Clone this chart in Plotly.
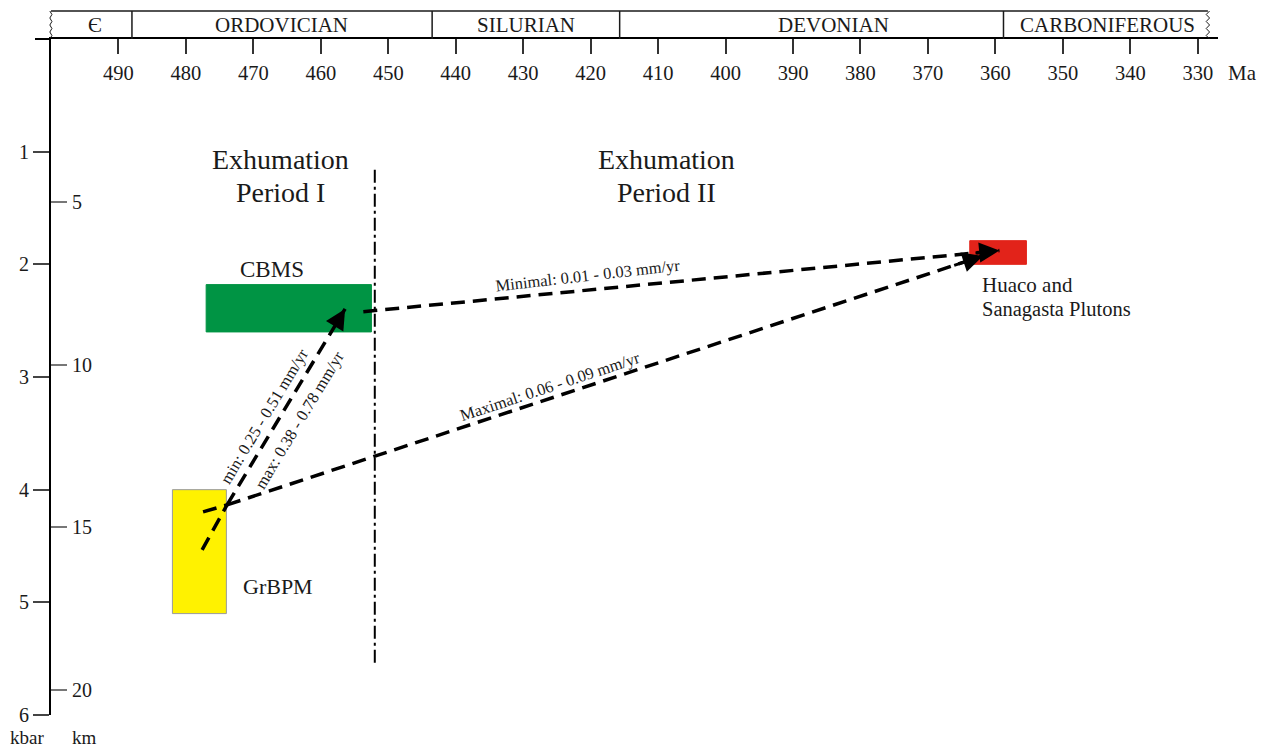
import plotly.graph_objects as go

# ---------------- data ----------------
# geological periods (header)
period_names = ["Є", "ORDOVICIAN", "SILURIAN", "DEVONIAN", "CARBONIFEROUS"]
period_label_pos = [493.5, 465.8, 429.6, 384.0, 343.4]
period_bounds = [488.0, 443.5, 415.7, 358.8]
header_right_age = 328.5

# x ticks (Ma)
age_ticks = [490, 480, 470, 460, 450, 440, 430, 420, 410, 400, 390, 380, 370, 360, 350, 340, 330]
# y ticks
kbar_ticks = [1, 2, 3, 4, 5, 6]
km_ticks = [5, 10, 15, 20]
km_per_kbar = 3.46

# units (boxes): age range (Ma) and pressure range (kbar)
unit_names = ["GrBPM", "CBMS", "Huaco and Sanagasta Plutons"]
unit_age_old = [482.0, 477.0, 363.8]
unit_age_young = [474.0, 452.5, 355.4]
unit_p_top = [4.0, 2.18, 1.79]
unit_p_bottom = [5.1, 2.60, 2.0]
unit_colors = ["#FFF200", "#009444", "#E2231A"]
unit_edge = ["#9A9A9A", "#009444", "#E2231A"]

# boundary between exhumation periods
period_split_age = 452.0
period_split_p = [1.16, 5.55]

# exhumation paths (age Ma, pressure kbar)
steep_inner_age = [477.6, 473.9]
steep_inner_p = [4.534, 4.135]
steep_age = [473.9, 456.4]
steep_p = [4.135, 2.396]

maxi_inner_age = [477.46, 473.9]
maxi_inner_p = [4.197, 4.135]
maxi_age = [473.9, 361.85]
maxi_p = [4.135, 1.925]

mini_age = [453.7, 359.4]
mini_p = [2.42, 1.878]

# rate labels: text, age, pressure, angle
rate_text = ["Minimal: 0.01 - 0.03 mm/yr", "Maximal: 0.06 - 0.09 mm/yr",
             "min: 0.25 - 0.51 mm/yr", "max: 0.38 - 0.78 mm/yr"]
rate_age = [420.4, 426.0, 468.3, 463.1]
rate_p = [2.103, 3.088, 3.345, 3.38]
rate_angle = [-6.5, -18.3, -59.0, -59.0]

FONT = "Liberation Serif"
INK = "#1a1a1a"

fig = go.Figure()

# boxes
shapes = []
for i in range(len(unit_names)):
    shapes.append(dict(type="rect", xref="x", yref="y",
                       x0=unit_age_old[i], x1=unit_age_young[i],
                       y0=unit_p_top[i], y1=unit_p_bottom[i],
                       fillcolor=unit_colors[i],
                       line=dict(color=unit_edge[i], width=1), layer="below"))

# dash-dot split line
fig.add_trace(go.Scatter(x=[period_split_age, period_split_age], y=period_split_p,
                         mode="lines", line=dict(color="black", width=2, dash="13px,4px,3px,4px"),
                         hoverinfo="skip", showlegend=False))

dash = "14px,8px"
for xs, ys in [(steep_inner_age, steep_inner_p), (steep_age, steep_p),
               (maxi_inner_age, maxi_inner_p), (maxi_age, maxi_p),
               (mini_age, mini_p)]:
    fig.add_trace(go.Scatter(x=xs, y=ys, mode="lines",
                             line=dict(color="black", width=3.5, dash=dash),
                             hoverinfo="skip", showlegend=False))

# invisible trace for km axis
fig.add_trace(go.Scatter(x=[490], y=[10], yaxis="y2", mode="markers",
                         marker=dict(opacity=0), hoverinfo="skip", showlegend=False))

annotations = []
# arrowheads
for xs, ys in [(steep_age, steep_p), (maxi_age, maxi_p), (mini_age, mini_p)]:
    f = 0.04
    bx = xs[1] + (xs[0] - xs[1]) * f
    by = ys[1] + (ys[0] - ys[1]) * f
    annotations.append(dict(x=xs[1], y=ys[1], ax=bx, ay=by, xref="x", yref="y",
                            axref="x", ayref="y", text="", showarrow=True,
                            arrowhead=2, arrowsize=1.35, arrowwidth=3, arrowcolor="black",
                            standoff=0, startstandoff=0))

# rate labels
for t, a, p, ang in zip(rate_text, rate_age, rate_p, rate_angle):
    annotations.append(dict(x=a, y=p, xref="x", yref="y", text=t, showarrow=False,
                            textangle=ang, font=dict(family=FONT, size=16.5, color=INK)))

# titles
title_lines = [("Exhumation", 466.0, 1.07), ("Period I", 466.0, 1.36),
               ("Exhumation", 408.7, 1.07), ("Period II", 408.7, 1.36)]
for t, a, p in title_lines:
    annotations.append(dict(x=a, y=p, xref="x", yref="y", text=t, showarrow=False,
                            font=dict(family=FONT, size=28, color=INK)))

annotations.append(dict(x=467.2, y=2.05, xref="x", yref="y", text="CBMS", showarrow=False,
                        font=dict(family=FONT, size=23, color=INK)))
annotations.append(dict(x=466.3, y=4.86, xref="x", yref="y", text="GrBPM", showarrow=False,
                        font=dict(family=FONT, size=22, color=INK)))
annotations.append(dict(x=362.3, y=2.18, xref="x", yref="y", text="Huaco and", showarrow=False,
                        xanchor="left", font=dict(family=FONT, size=21, color=INK)))
annotations.append(dict(x=362.3, y=2.40, xref="x", yref="y", text="Sanagasta Plutons", showarrow=False,
                        xanchor="left", font=dict(family=FONT, size=20.5, color=INK)))

# header
H_TOP = 1.0414
H_MID = 1.0207
shapes.append(dict(type="line", xref="x", yref="paper", x0=500, x1=header_right_age,
                   y0=H_TOP, y1=H_TOP, line=dict(color=INK, width=1.5)))
for b in period_bounds:
    shapes.append(dict(type="line", xref="x", yref="paper", x0=b, x1=b,
                       y0=1.0, y1=H_TOP, line=dict(color=INK, width=1.5)))
# wavy right edge
n = 8
pts = []
for k in range(n + 1):
    yy = 1.0 + (H_TOP - 1.0) * k / n
    xx = header_right_age + (0.25 if k % 2 else -0.25)
    pts.append(f"{xx},{yy}")
shapes.append(dict(type="path", xref="x", yref="paper", path="M " + " L ".join(pts),
                   line=dict(color=INK, width=1)))
# wavy left edge (paper coords)
pts = []
for k in range(n + 1):
    yy = 1.0 + (H_TOP - 1.0) * k / n
    xx = -0.0010 + (0.0018 if k % 2 else 0.0)
    pts.append(f"{xx},{yy}")
shapes.append(dict(type="path", xref="paper", yref="paper", path="M " + " L ".join(pts),
                   line=dict(color=INK, width=1)))
# extension of baseline to the left
shapes.append(dict(type="line", xref="paper", yref="paper", x0=-0.0137, x1=0, y0=1, y1=1,
                   line=dict(color="black", width=2)))

for name, pos in zip(period_names, period_label_pos):
    annotations.append(dict(x=pos, y=H_MID, xref="x", yref="paper", text=name, showarrow=False,
                            xanchor="center", yanchor="middle",
                            font=dict(family=FONT, size=21, color=INK)))

annotations.append(dict(x=1.0214, y=0.9497, xref="paper", yref="paper", text="Ma", showarrow=False,
                        xanchor="center", yanchor="middle",
                        font=dict(family=FONT, size=21, color=INK)))
annotations.append(dict(x=-0.0206, y=-0.034, xref="paper", yref="paper", text="kbar", showarrow=False,
                        xanchor="center", yanchor="middle",
                        font=dict(family=FONT, size=19, color=INK)))
annotations.append(dict(x=0.0283, y=-0.034, xref="paper", yref="paper", text="km", showarrow=False,
                        xanchor="center", yanchor="middle",
                        font=dict(family=FONT, size=19, color=INK)))

fig.update_layout(
    width=1267, height=751, autosize=False,
    margin=dict(l=51, r=49, t=39, b=36),
    paper_bgcolor="white", plot_bgcolor="white",
    showlegend=False,
    shapes=shapes, annotations=annotations,
    xaxis=dict(range=[500, 327], side="top", showline=True, linecolor="black", linewidth=2,
               ticks="inside", ticklen=15, tickwidth=2, tickcolor="#333",
               tickvals=age_ticks, ticktext=[str(v) for v in age_ticks],
               ticklabelposition="inside", ticklabelstandoff=13,
               tickfont=dict(family=FONT, size=20.5, color=INK),
               showgrid=False, zeroline=False),
    yaxis=dict(range=[6, 0], showline=True, linecolor="black", linewidth=2,
               ticks="outside", ticklen=16, tickwidth=2, tickcolor="#444",
               tickvals=kbar_ticks, ticktext=[str(v) for v in kbar_ticks],
               tickfont=dict(family=FONT, size=20, color=INK),
               showgrid=False, zeroline=False),
    yaxis2=dict(range=[6 * km_per_kbar, 0], overlaying="y", side="left", anchor="x",
                showline=False, ticks="inside", ticklen=16, tickwidth=2, tickcolor="#777",
                tickvals=km_ticks, ticktext=[str(v) for v in km_ticks],
                ticklabelposition="inside", ticklabelstandoff=6,
                tickfont=dict(family=FONT, size=20, color=INK),
                showgrid=False, zeroline=False),
)

fig.write_html("out.html")
